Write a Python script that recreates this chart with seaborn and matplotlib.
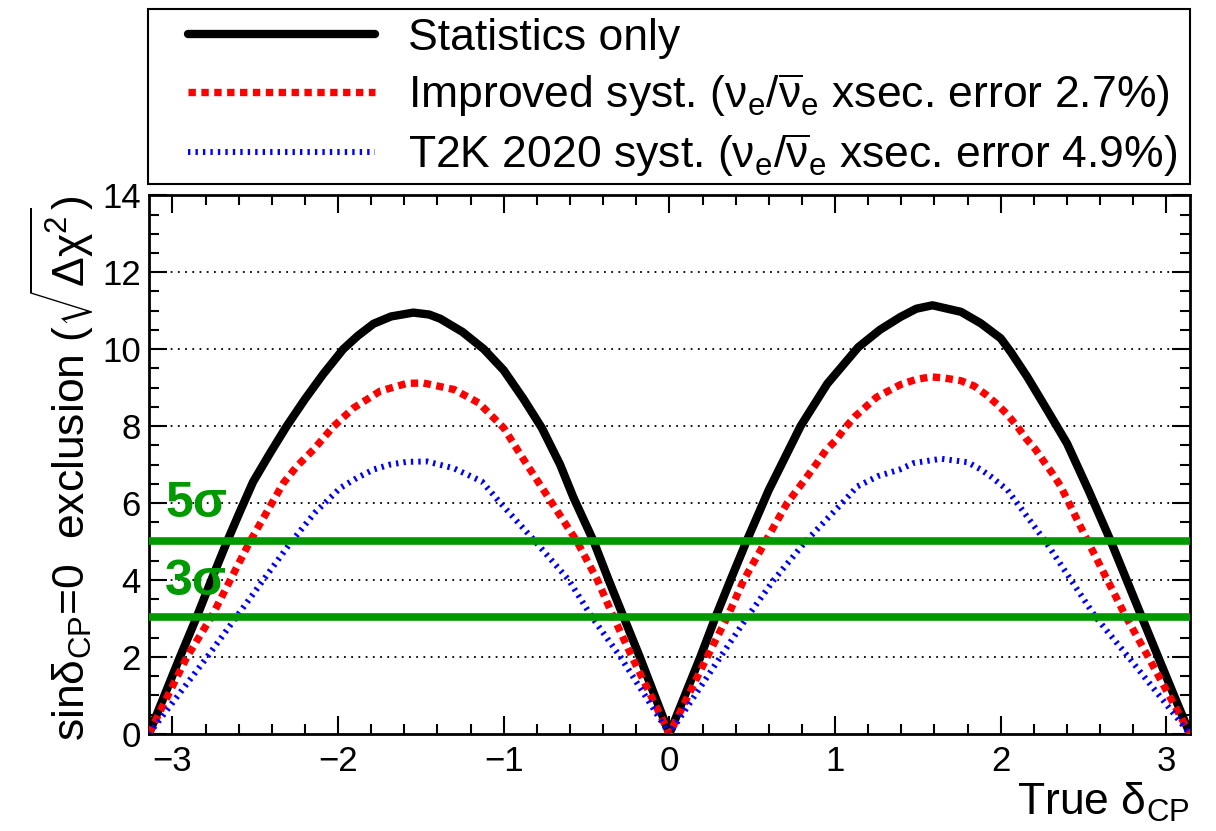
import numpy as np
import matplotlib
matplotlib.use("Agg")
import matplotlib.pyplot as plt
from matplotlib.patches import Rectangle
import seaborn as sns

# ---- data (true delta_CP vs sqrt(dchi2)) ----
pi = np.pi
stat_x = [-pi, -2.954, -2.852, -2.76, -2.67, -2.59, -2.513, -2.41, -2.31, -2.2,
          -2.09, -1.969, -1.88, -1.786, -1.68, -1.546, -1.45, -1.383, -1.25,
          -1.12, -1.0, -0.88, -0.77, -0.66, -0.58, -0.457, -0.367, -0.276,
          -0.179, 0.0,
          0.187, 0.278, 0.369, 0.465, 0.599, 0.792, 0.953, 1.14, 1.27, 1.396,
          1.49, 1.588, 1.76, 1.88, 2.0, 2.06, 2.16, 2.28, 2.40, 2.53, 2.665,
          2.85, 2.95, pi]
stat_y = [0.0, 2.0, 3.05, 4.05, 5.0, 5.8, 6.55, 7.3, 8.0, 8.7,
          9.35, 10.0, 10.35, 10.66, 10.85, 10.95, 10.9, 10.79, 10.45,
          10.0, 9.45, 8.7, 7.95, 7.0, 6.15, 5.0, 4.0, 3.03,
          2.0, 0.0,
          2.0, 3.03, 4.0, 5.0, 6.33, 8.0, 9.1, 10.05, 10.5, 10.84,
          11.05, 11.14, 10.97, 10.67, 10.28, 9.93, 9.28, 8.42, 7.55, 6.33, 5.0,
          3.05, 2.0, 0.0]

impr_x = [-pi, -2.912, -2.763, -2.532, -2.33, -2.25, -2.148, -2.028, -1.907,
          -1.746, -1.585, -1.485, -1.3, -1.15, -1.0, -0.88, -0.709, -0.558,
          -0.435, -0.337, -0.226, 0.0,
          0.228, 0.349, 0.449, 0.58, 0.711, 0.785, 0.845, 0.896, 0.946, 1.007,
          1.057, 1.118, 1.25, 1.396, 1.487, 1.578, 1.658, 1.759, 1.84, 1.91,
          1.98, 2.04, 2.10, 2.15, 2.21, 2.26, 2.31, 2.36, 2.526, 2.755, 2.89, pi]
impr_y = [0.0, 2.0, 3.05, 5.0, 6.52, 6.95, 7.39, 7.99, 8.47,
          8.91, 9.11, 9.12, 8.95, 8.6, 7.95, 7.13, 6.0, 5.0,
          4.0, 3.03, 2.0, 0.0,
          2.0, 3.03, 4.0, 5.0, 6.0, 6.42, 6.77, 7.07, 7.38, 7.64,
          7.94, 8.24, 8.75, 9.08, 9.21, 9.28, 9.25, 9.18, 9.04, 8.82,
          8.56, 8.3, 7.99, 7.69, 7.39, 7.08, 6.78, 6.45, 5.0, 3.05, 2.0, 0.0]

t2k_x = [-pi, -2.79, -2.612, -2.29, -2.14, -1.987, -1.887, -1.786, -1.685,
         -1.585, -1.464, -1.3, -1.132, -1.02, -0.81, -0.608, -0.467, -0.296, 0.0,
         0.308, 0.469, 0.63, 0.822, 1.043, 1.134, 1.26, 1.39, 1.476, 1.64,
         1.80, 1.88, 1.94, 2.0, 2.04, 2.15, 2.27, 2.57, 2.77, pi]
t2k_y = [0.0, 2.0, 3.05, 4.95, 5.75, 6.39, 6.65, 6.87, 7.0,
         7.07, 7.08, 6.9, 6.56, 6.0, 5.0, 4.0, 3.03, 2.0, 0.0,
         2.0, 3.03, 4.0, 5.0, 6.0, 6.43, 6.7, 6.87, 7.04, 7.15,
         7.06, 6.87, 6.69, 6.48, 6.34, 5.7, 5.0, 3.05, 2.0, 0.0]

sigma_levels = [5.0, 3.04]
sigma_names = ["5\u03c3", "3\u03c3"]
sigma_text_y = [5.64, 3.6]

labels = ["Statistics only",
          r"Improved syst. ($\nu_{\rm e}/\overline{\nu}_{\rm e}$ xsec. error 2.7%)",
          r"T2K 2020 syst. ($\nu_{\rm e}/\overline{\nu}_{\rm e}$ xsec. error 4.9%)"]

sns.set_style("ticks")
plt.rcParams['font.family'] = ['Liberation Sans', 'DejaVu Sans']
plt.rcParams['mathtext.fontset'] = 'custom'
plt.rcParams['mathtext.rm'] = 'Liberation Sans'
plt.rcParams['mathtext.it'] = 'Liberation Sans'
plt.rcParams['mathtext.default'] = 'regular'
plt.rcParams['text.color'] = 'black'
plt.rcParams['axes.labelcolor'] = 'black'

W, H = 1216, 831
fig = plt.figure(figsize=(W / 100, H / 100), dpi=100)
ax = fig.add_axes([0.1225, 0.117, 0.856, 0.648])

# dotted horizontal grid at major y ticks
for g in range(2, 14, 2):
    ax.axhline(g, color='k', lw=1.3, ls=(0, (1, 3)), zorder=1)

sns.lineplot(x=stat_x, y=stat_y, color='black', lw=6, sort=False,
             label=labels[0], ax=ax, zorder=3)
sns.lineplot(x=impr_x, y=impr_y, color='#ff0000', lw=5.3, sort=False,
             linestyle=(0, (1.0, 0.75)), label=labels[1], ax=ax, zorder=3)
sns.lineplot(x=t2k_x, y=t2k_y, color='#0000ff', lw=4.3, sort=False,
             linestyle=(0, (0.4, 0.85)), label=labels[2], ax=ax, zorder=3)

for lev, nm, ty in zip(sigma_levels, sigma_names, sigma_text_y):
    ax.axhline(lev, color='#009900', lw=5.5, zorder=4)
    ax.text(-3.045, ty, nm, color='#009900', fontsize=36, fontweight='bold',
            ha='left', va='baseline', zorder=5)

ax.set_xlim(-pi, pi)
ax.set_ylim(0, 14)
ax.set_xticks([-3, -2, -1, 0, 1, 2, 3])
ax.set_xticklabels(["\u22123", "\u22122", "\u22121", "0", "1", "2", "3"])
ax.set_xticks(np.arange(-3.0, 3.01, 0.2), minor=True)
ax.set_yticks(range(0, 15, 2))
ax.set_yticks(np.arange(0, 14.01, 0.5), minor=True)
ax.tick_params(which='both', direction='in', top=True, right=True, width=1.5,
               colors='black')
ax.tick_params(which='major', length=13)
ax.tick_params(which='minor', length=7)
ax.tick_params(axis='x', labelsize=25, pad=8)
ax.tick_params(axis='y', labelsize=25, pad=6)
for sp in ax.spines.values():
    sp.set_linewidth(2)
    sp.set_color('black')

ax.set_xlabel(r"True $\delta_{\rm CP}$", fontsize=32, loc='right', labelpad=2)
ax.set_ylabel(r"sin$\delta_{\rm CP}$=0  exclusion ($\sqrt{\Delta\chi^{2}}$)",
              fontsize=32, loc='top', labelpad=4)

# legend box above the frame (ROOT TLegend style)
fig.patches.append(Rectangle((148 / W, 1 - 184 / H), (1190 - 148) / W, (184 - 9) / H,
                             transform=fig.transFigure, fill=False,
                             edgecolor='black', lw=1.5))
leg = ax.legend(loc='upper left', bbox_to_anchor=(188 / W, 1 - 18 / H),
                bbox_transform=fig.transFigure, borderaxespad=0, borderpad=0,
                fontsize=32, handlelength=4.2, handletextpad=0.75,
                labelspacing=0.27, frameon=False)
for t in leg.get_texts():
    t.set_color('black')

fig.savefig("out.png", dpi=100)
